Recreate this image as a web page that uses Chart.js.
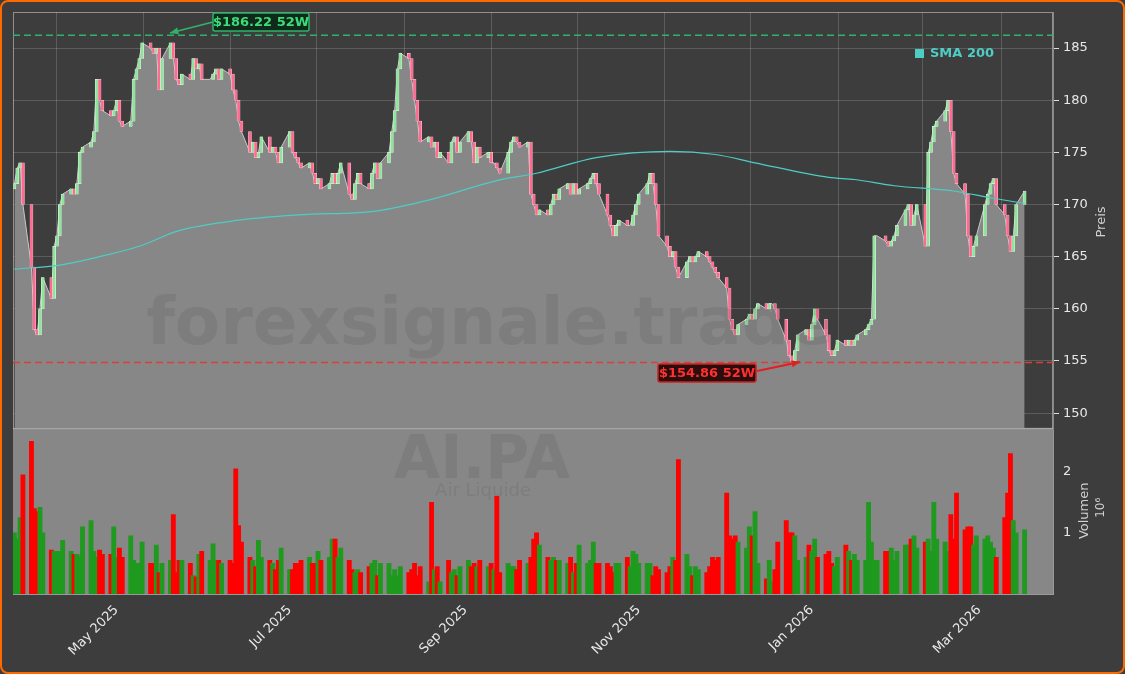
<!DOCTYPE html>
<html><head><meta charset="utf-8">
<script src="https://cdn.jsdelivr.net/npm/chart.js@4"></script>
<style>
html,body{margin:0;padding:0;background:#3d3d3d;width:1125px;height:674px;overflow:hidden;font-family:"DejaVu Sans",sans-serif}
#frame{position:absolute;left:0;top:0;width:1121px;height:670px;border:2px solid #ff6a00;border-radius:8px;z-index:5;pointer-events:none}
canvas{position:absolute;left:0}
#c1{top:0;z-index:2}#c2{top:416px;z-index:1}
</style></head><body>
<div id="frame"></div>
<canvas id="c1" width="1125" height="441"></canvas>
<canvas id="c2" width="1125" height="258"></canvas>
<script>
const startDate = Date.UTC(2025,3,1);
const closes = [
172,173.5,174,170,164,158,157.5,160,163,161,
166,167,170,171,171.5,171,172,175,175.5,176,
177,182,180,179,178.5,179,180,178,177.5,178,
182,183,184,185.5,185,184.5,185,181,184,185.5,
184,182,181.5,182.5,182,184,183,183.5,182,182,
182.5,183,182,183,182.5,181,180,178,177,175,
176,174.5,175,176.5,175,175.5,175,
174,175.5,177,175,174.5,174,173.5,174,173,172,
172.5,171.5,172,173,172,173,174,171,
170.5,172,173,172,171.5,173,174,172.5,174,175,
177,179,183,184.5,184,182,180,178,176,176.5,
175.5,176,174.5,175,174,176,176.5,175,176,177,
176,174,175.5,174.5,175,174,174,173.5,
173,175,176,176.5,176,175.5,176,171,170,169,
169.5,169,170,171,170.5,171.5,172,171,172,171,
171.5,172,172.5,173,172,171,169,168,167,168,
168.5,168,168,169,170,171,172,173,172,170,
167,166,165,165.5,164,163,164.5,165,164.5,165,
165.5,165,164.5,164,163.5,163,162,159,158,157.5,
158.5,159,159.5,159,160,160.5,160,160.5,
160.5,160,159,157,155.5,155,156,157.5,158,157,
158.5,160,159,157.5,156,155.5,156,157,156.5,157,
156.5,157,157.5,158,158.5,159,167,167,166.5,166,
166.5,167,168,169.5,170,168,169,170,166,175,
176,177.5,178,179,180,177,173,172,171,167,
165,166,167,170,171,172,172.5,170,169,167,
165.5,167,170,171.3];
const volumes = [
1.0,0.9,1.25,1.95,2.5,1.4,1.35,1.42,1.0,0.72,
0.7,0.7,0.7,0.88,0.7,0.65,0.65,0.62,1.1,1.2,
0.7,0.6,0.72,0.65,0.65,1.1,0.6,0.75,0.6,0.95,
0.55,0.5,0.5,0.85,0.5,0.5,0.8,0.35,0.5,0.55,
1.3,0.35,0.55,0.55,0.5,0.3,0.28,0.65,0.7,0.55,
0.82,0.55,0.55,0.5,0.55,0.5,2.05,1.12,0.85,0.6,
0.55,0.45,0.88,0.6,0.55,0.5,0.4,0.55,0.75,0.4,
0.4,0.5,0.5,0.55,0.6,0.5,0.5,0.7,0.55,0.6,
0.9,0.9,0.6,0.75,0.55,0.4,0.35,0.4,0.35,0.45,
0.5,0.55,0.3,0.5,0.5,0.3,0.4,0.3,0.45,0.35,
0.4,0.5,0.3,0.45,0.2,1.5,0.4,0.45,0.2,0.55,
0.35,0.4,0.3,0.45,0.55,0.45,0.5,0.45,0.55,0.45,
0.5,0.4,1.6,0.35,0.5,0.45,0.45,0.4,0.55,0.5,
0.6,0.9,1.0,0.8,0.6,0.55,0.6,0.55,0.55,0.5,
0.6,0.35,0.5,0.8,0.5,0.55,0.85,0.5,0.5,0.5,
0.45,0.35,0.5,0.5,0.6,0.45,0.7,0.65,0.5,0.5,
0.5,0.3,0.45,0.4,0.35,0.45,0.6,0.55,2.2,0.65,
0.45,0.3,0.45,0.4,0.35,0.45,0.6,0.55,0.6,1.65,
0.95,0.9,0.95,0.85,0.75,1.1,0.95,1.35,0.5,0.25,
0.55,0.2,0.4,0.85,1.2,1.0,1.0,0.95,0.55,0.6,
0.8,0.7,0.9,0.6,0.65,0.7,0.5,0.45,0.6,0.8,
0.7,0.55,0.65,0.55,0.55,1.5,0.85,0.55,0.55,0.7,
0.7,0.75,0.55,0.7,0.8,0.8,0.9,0.95,0.75,0.85,
0.9,0.7,1.5,0.9,0.85,0.7,1.3,0.9,1.65,1.05,
1.1,1.1,0.8,0.95,0.9,0.95,0.85,0.75,0.6,1.25,
1.65,2.3,1.2,1.0,1.05,1.0];
const smaIdx = [0,12,22,32,42,57,72,92,105,122,132,147,165,177,187,205,212,222,237,247,254];
const smaVal = [163.8,164.2,165,166,167.5,168.5,169,169.4,170.5,172.3,173,174.5,175.1,174.8,174,172.6,172.4,171.8,171.3,170.6,170.1];
const high52 = 186.22, low52 = 154.86;
const priceTicks = [150,155,160,165,170,175,180,185];
const monthLabels = ["Apr 2025","May 2025","Jun 2025","Jul 2025","Aug 2025","Sep 2025","Oct 2025","Nov 2025","Dec 2025","Jan 2026","Feb 2026","Mar 2026"];

const days=[]; {let d=0; while(days.length<closes.length){const w=new Date(startDate+d*864e5).getUTCDay(); if(w!==0&&w!==6) days.push(d); d++;}}
const n=Math.min(closes.length,volumes.length);
const opens=closes.map((c,i)=>i?closes[i-1]:c-0.5);
const up=closes.map((c,i)=>c>=opens[i]);
const monthDays=monthLabels.map((_,k)=>(Date.UTC(2025,3+k,1)-startDate)/864e5);
const XMIN=-0.5, XMAX=366;

const xCommon={type:'linear',min:XMIN,max:XMAX,offset:false,
  afterBuildTicks:s=>{s.ticks=monthDays.map(v=>({value:v}));}};
const fitY=s=>{s.width=72;};
const vText=(ctx,t,x,y,font)=>{ctx.save();ctx.translate(x,y);ctx.rotate(-Math.PI/2);ctx.font=font;ctx.fillStyle='#d0d0d0';ctx.textAlign='center';ctx.textBaseline='middle';ctx.fillText(t,0,0);ctx.restore();};

const annot={id:'annot',afterDatasetsDraw(ch){
  const {ctx,scales:{x,y},chartArea:a}=ch;
  ctx.save();
  ctx.fillStyle='rgba(60,60,60,0.13)';ctx.font='bold 66px "DejaVu Sans"';ctx.textAlign='center';ctx.textBaseline='middle';
  ctx.fillText('forexsignale.trade',490,327);
  ctx.strokeStyle='rgba(200,200,200,0.6)';ctx.lineWidth=1;ctx.strokeRect(a.left+0.5,a.top+0.5,a.right-a.left-1,a.bottom-a.top-1);
  ctx.setLineDash([7,4]);ctx.lineWidth=1.5;
  let yh=y.getPixelForValue(high52), yl=y.getPixelForValue(low52);
  ctx.strokeStyle='#2fb36a';ctx.beginPath();ctx.moveTo(a.left,yh);ctx.lineTo(a.right,yh);ctx.stroke();
  ctx.strokeStyle='#d9403a';ctx.beginPath();ctx.moveTo(a.left,yl);ctx.lineTo(a.right,yl);ctx.stroke();
  ctx.setLineDash([]);
  const arrow=(x1,y1,x2,y2,c)=>{ctx.strokeStyle=c;ctx.fillStyle=c;ctx.lineWidth=1.8;ctx.beginPath();ctx.moveTo(x1,y1);ctx.lineTo(x2,y2);ctx.stroke();
    const an=Math.atan2(y2-y1,x2-x1);ctx.beginPath();ctx.moveTo(x2,y2);ctx.lineTo(x2-9*Math.cos(an-0.4),y2-9*Math.sin(an-0.4));ctx.lineTo(x2-9*Math.cos(an+0.4),y2-9*Math.sin(an+0.4));ctx.closePath();ctx.fill();};
  arrow(213,22,170,33,'#2fb36a');
  arrow(757,371,800,362,'#e02020');
  const box=(bx,by,w,h,bg,bd,tc,t)=>{ctx.fillStyle=bg;ctx.strokeStyle=bd;ctx.lineWidth=1.5;ctx.beginPath();ctx.roundRect(bx,by,w,h,2);ctx.fill();ctx.stroke();
    ctx.fillStyle=tc;ctx.font='bold 13px "DejaVu Sans"';ctx.textAlign='center';ctx.textBaseline='middle';ctx.fillText(t,bx+w/2,by+h/2+1);};
  box(213,13,96,18,'#0f2a1a','#2fb36a','#3ddc7a','$186.22 52W');
  box(658,364,98,18,'#2a0e0e','#d02020','#ff3030','$154.86 52W');
  ctx.fillStyle='#4ecdc4';ctx.fillRect(915,49,9,9);
  ctx.font='bold 13px "DejaVu Sans"';ctx.textAlign='left';ctx.textBaseline='middle';ctx.fillText('SMA 200',930,54);
  ctx.restore();
  vText(ctx,'Preis',1102,222,'13px "DejaVu Sans"');
}};

new Chart(document.getElementById('c1'),{
  data:{datasets:[
    {type:'line',data:days.slice(0,n).map((d,i)=>({x:d,y:closes[i]})),borderColor:'#c8c8c8',borderWidth:1,pointRadius:0,fill:'start',backgroundColor:'#878787',order:3},
    {type:'bar',data:days.slice(0,n).map((d,i)=>({x:d,y:[opens[i],closes[i]]})),backgroundColor:up.map(u=>u?'#8fe39a':'#ff6a90'),borderColor:up.map(u=>u?'#e8ffe8':'#ffd0dc'),borderWidth:0.5,barThickness:3,borderSkipped:false,order:2},
    {type:'line',data:smaIdx.map((k,j)=>({x:days[k],y:smaVal[j]})),borderColor:'#4ecdc4',borderWidth:1.2,pointRadius:0,cubicInterpolationMode:'monotone',fill:false,order:1}
  ]},
  options:{responsive:false,animation:false,layout:{padding:{left:13,top:12,right:0,bottom:0}},
    plugins:{legend:{display:false},tooltip:{enabled:false}},
    scales:{
      x:{...xCommon,display:true,ticks:{display:false},grid:{color:'rgba(255,255,255,0.16)',drawTicks:false},border:{display:false},afterFit:s=>{s.height=0;}},
      y:{position:'right',min:148.46,max:188.46,afterBuildTicks:s=>{s.ticks=priceTicks.map(v=>({value:v}));},afterFit:fitY,
        ticks:{color:'#e8e8e8',font:{size:13,family:'DejaVu Sans'},padding:4},grid:{color:'rgba(255,255,255,0.16)',tickColor:'#ddd',tickLength:6},
        border:{color:'#888'}}
    }},
  plugins:[annot]
});

const volBg={id:'volBg',beforeDatasetsDraw(ch){const {ctx,chartArea:a}=ch;ctx.save();ctx.fillStyle='#878787';ctx.fillRect(a.left,a.top,a.right-a.left,a.bottom-a.top);
  ctx.fillStyle='rgba(60,60,60,0.13)';ctx.textAlign='center';ctx.textBaseline='middle';ctx.font='bold 60px "DejaVu Sans"';ctx.fillText('AI.PA',482,a.top+35);
  ctx.font='18px "DejaVu Sans"';ctx.fillText('Air Liquide',483,a.top+64);ctx.restore();},
  afterDraw(ch){const {ctx,scales:{x},chartArea:a}=ch;ctx.save();ctx.fillStyle='#e8e8e8';ctx.font='13px "DejaVu Sans"';ctx.textAlign='right';ctx.textBaseline='middle';
    monthDays.forEach((v,k)=>{if(k%2!==1)return;const px=x.getPixelForValue(v);ctx.save();ctx.translate(px+17,a.bottom+14);ctx.rotate(-Math.PI/4);ctx.fillText(monthLabels[k],0,0);ctx.restore();});
    ctx.restore();
    vText(ctx,'Volumen',1085,a.top+83,'13px "DejaVu Sans"');
    vText(ctx,'10⁶',1101,a.top+80,'12px "DejaVu Sans"');}};
new Chart(document.getElementById('c2'),{
  type:'bar',
  data:{datasets:[{data:days.slice(0,n).map((d,i)=>({x:d,y:volumes[i]})),backgroundColor:up.map(u=>u?'#1e9a1e':'#ff0000'),barThickness:4.2,borderWidth:0}]},
  options:{responsive:false,animation:false,layout:{padding:{left:13,top:0,right:0,bottom:0}},
    plugins:{legend:{display:false},tooltip:{enabled:false}},
    scales:{
      x:{...xCommon,afterFit:s=>{s.height=80;},grid:{display:false,drawTicks:true,tickColor:'#ddd',tickLength:5},
        ticks:{display:true,color:'rgba(0,0,0,0)',callback:()=>''},border:{color:'#999'}},
      y:{position:'right',min:0,max:2.72,afterBuildTicks:s=>{s.ticks=[1,2].map(v=>({value:v}));},afterFit:fitY,
        ticks:{color:'#e8e8e8',font:{size:13,family:'DejaVu Sans'},padding:4},grid:{display:false,drawTicks:true,tickColor:'#ddd',tickLength:6},border:{color:'#999'}}
    }},
  plugins:[volBg]
});
</script></body></html>
